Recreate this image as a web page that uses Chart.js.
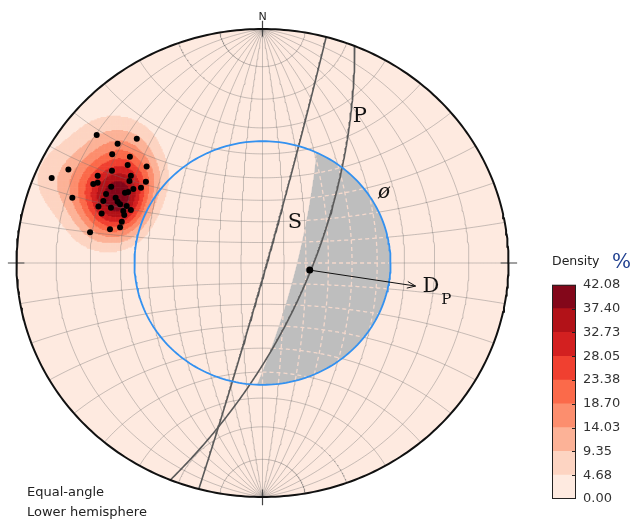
<!DOCTYPE html>
<html>
<head>
<meta charset="utf-8">
<title>Stereonet</title>
<script src="https://cdn.jsdelivr.net/npm/chart.js@4.4.1/dist/chart.umd.min.js"></script>
<style>
  body { margin: 0; background: #fff; }
  .wrap { position: relative; width: 634px; height: 524px; }
  #net { position: absolute; left: 0; top: 0; }
  #colorbar { position: absolute; left: 540px; top: 270px; }
</style>
</head>
<body>
<div class="wrap">
  <canvas id="net" width="634" height="524"></canvas>
  <canvas id="colorbar" width="94" height="254"></canvas>
</div>
<script>
// poles (net units, primitive radius = 1, x east, y north)
const poleX = [-0.674, -0.589, -0.511, -0.611, -0.539, -0.548, -0.471, -0.789, -0.857, -0.612,
  -0.535, -0.670, -0.541, -0.474, -0.688, -0.670, -0.615, -0.525, -0.494, -0.559,
  -0.546, -0.636, -0.597, -0.773, -0.647, -0.589, -0.579, -0.552, -0.667, -0.616,
  -0.535, -0.566, -0.654, -0.562, -0.572, -0.579, -0.620, -0.701];
const poleY = [0.547, 0.510, 0.531, 0.465, 0.454, 0.419, 0.412, 0.400, 0.363, 0.394,
  0.373, 0.373, 0.350, 0.347, 0.338, 0.343, 0.326, 0.316, 0.322, 0.300,
  0.303, 0.295, 0.279, 0.279, 0.265, 0.262, 0.251, 0.244, 0.241, 0.236,
  0.226, 0.222, 0.212, 0.205, 0.176, 0.153, 0.144, 0.131];

// great circles: slope face S and plane P (strike / dip, right hand rule)
const planeNames = ['S', 'P'];
const planeStrike = [15, 22];
const planeDip = [88, 68];

// left edge of the shaded zone, and the friction cone
const daylightStrike = 13.7;
const daylightDip = 74.5;
const frictionAngle = 35;

// dip vector of P
const dipTrend = 99;
const dipPlunge = 68;
const arrowReach = 0.63;

// colour bar
const densityLevels = [0, 4.68, 9.35, 14.03, 18.70, 23.38, 28.05, 32.73, 37.40, 42.08];
const densityLabels = ['0.00', '4.68', '9.35', '14.03', '18.70', '23.38', '28.05', '32.73', '37.40', '42.08'];
const densityColors = ['#feeae0', '#fdd4c2', '#fcb297', '#fc8e6e', '#fb6a4a', '#f04030', '#d32020', '#b21218', '#83071a'];

const D2R = Math.PI / 180;
const GAP = { x: NaN, y: NaN };

// lower hemisphere, equal angle
function toNet(e, n, d) {
  return { x: e / (1 + d), y: n / (1 + d) };
}
function fromNet(x, y) {
  const q = 1 + x * x + y * y;
  return [2 * x / q, 2 * y / q, (2 - q) / q];
}

function planePoints(strike, dip, steps) {
  const s = strike * D2R, dd = (strike + 90) * D2R, dp = dip * D2R;
  const pts = [];
  for (let i = 0; i <= steps; i++) {
    const r = i / steps * Math.PI;
    const e = Math.cos(r) * Math.sin(s) + Math.sin(r) * Math.sin(dd) * Math.cos(dp);
    const n = Math.cos(r) * Math.cos(s) + Math.sin(r) * Math.cos(dd) * Math.cos(dp);
    const d = Math.sin(r) * Math.sin(dp);
    pts.push(toNet(e, n, d));
  }
  return pts;
}

function circlePoints(radius, from, to, steps) {
  const pts = [];
  for (let i = 0; i <= steps; i++) {
    const a = from + (to - from) * i / steps;
    pts.push({ x: radius * Math.cos(a), y: radius * Math.sin(a) });
  }
  return pts;
}

// wulff net: meridians and parallels every 10 degrees, poles at N and S
function netLines(res) {
  const pts = [];
  for (let lon = -80; lon <= 80; lon += 10) {
    for (let lat = -90; lat <= 90; lat += res) {
      const c = Math.cos(lat * D2R);
      pts.push(toNet(c * Math.sin(lon * D2R), Math.sin(lat * D2R), c * Math.cos(lon * D2R)));
    }
    pts.push(GAP);
  }
  for (let lat = -80; lat <= 80; lat += 10) {
    for (let lon = -90; lon <= 90; lon += res) {
      const c = Math.cos(lat * D2R);
      pts.push(toNet(c * Math.sin(lon * D2R), Math.sin(lat * D2R), c * Math.cos(lon * D2R)));
    }
    pts.push(GAP);
  }
  return pts;
}

// shaded zone: inside friction circle, east of the daylight great circle
const fr = Math.tan((90 - frictionAngle) / 2 * D2R);
const dayTan = Math.tan(daylightDip * D2R);
const dayDir = (daylightStrike + 90) * D2R;
const dayC = { x: -dayTan * Math.sin(dayDir), y: -dayTan * Math.cos(dayDir) };
const dayR = 1 / Math.cos(daylightDip * D2R);
function inShade(p) {
  return Math.hypot(p.x, p.y) <= fr && Math.hypot(p.x - dayC.x, p.y - dayC.y) >= dayR;
}
const dayIn = planePoints(daylightStrike, daylightDip, 900).filter(p => Math.hypot(p.x, p.y) <= fr);
const aBottom = Math.atan2(dayIn[dayIn.length - 1].y, dayIn[dayIn.length - 1].x);
let aTop = Math.atan2(dayIn[0].y, dayIn[0].x);
if (aTop < aBottom) aTop += 2 * Math.PI;
const shade = dayIn.concat(circlePoints(fr, aBottom, aTop, 120));

const shadeGrid = netLines(0.5).map(p => (isNaN(p.x) || inShade(p) ? p : GAP));

// density on the sphere: exp(k (cos a - 1)) summed over the poles,
// peak scaled to the top level of the colour bar
const kappa = 80;
const poleVec = poleX.map((x, i) => fromNet(x, poleY[i]));
const cell = 0.005;
const cells = [];
let peak = 0;
for (let x = -0.99; x <= -0.15; x += cell) {
  for (let y = -0.2; y <= 0.9; y += cell) {
    if (x * x + y * y > 1) continue;
    const u = fromNet(x, y);
    let v = 0;
    poleVec.forEach(p => {
      const c = Math.abs(u[0] * p[0] + u[1] * p[1] + u[2] * p[2]);
      v += Math.exp(kappa * (c - 1));
    });
    peak = Math.max(peak, v);
    cells.push({ x, y, v });
  }
}
const densityTop = densityLevels[densityLevels.length - 1];
const cellSets = densityColors.map(() => []);
cells.forEach(c => {
  const v = c.v / peak * densityTop;
  let k = 0;
  while (k < densityColors.length - 1 && v >= densityLevels[k + 1]) k++;
  if (k > 0) cellSets[k].push({ x: c.x, y: c.y });
});

const datasets = [];
function addLine(data, opts) {
  datasets.push(Object.assign({
    data, showLine: true, pointRadius: 0, borderWidth: 1, fill: false, clip: false
  }, opts));
}

addLine(circlePoints(1, 0, 2 * Math.PI, 360), { fill: 'shape', backgroundColor: densityColors[0], borderWidth: 0, order: 100 });
cellSets.forEach((set, k) => {
  if (k === 0) return;
  datasets.push({
    data: set, parsing: false, showLine: false, pointStyle: 'rect', pointRadius: 1.25,
    backgroundColor: densityColors[k], borderWidth: 0, order: 95 - k
  });
});
addLine(netLines(1), { borderColor: 'rgba(110,110,110,0.38)', borderWidth: 1, order: 80 });
addLine(shade, { fill: 'shape', backgroundColor: '#bebebe', borderWidth: 0, order: 70 });
addLine(shadeGrid, { borderColor: '#f3d8cc', borderWidth: 1.3, borderDash: [4, 3], order: 65 });
planeStrike.forEach((s, i) => {
  addLine(planePoints(s, planeDip[i], 240), { borderColor: '#5a5a5a', borderWidth: 1.6, order: 50 });
});
addLine(circlePoints(fr, 0, 2 * Math.PI, 240), { borderColor: '#3391f0', borderWidth: 1.8, order: 40 });

const dip = toNet(
  Math.cos(dipPlunge * D2R) * Math.sin(dipTrend * D2R),
  Math.cos(dipPlunge * D2R) * Math.cos(dipTrend * D2R),
  Math.sin(dipPlunge * D2R));
const tip = { x: arrowReach * Math.sin(dipTrend * D2R), y: arrowReach * Math.cos(dipTrend * D2R) };
addLine([dip, tip], { borderColor: '#111', borderWidth: 1, order: 30 });
datasets.push({
  data: poleX.map((x, i) => ({ x, y: poleY[i] })), showLine: false, pointRadius: 3,
  backgroundColor: '#000', borderWidth: 0, order: 20
});
datasets.push({ data: [dip], showLine: false, pointRadius: 3.5, backgroundColor: '#000', borderWidth: 0, order: 20 });

// primitive and cardinal ticks
addLine(circlePoints(1, 0, 2 * Math.PI, 360), { borderColor: '#111', borderWidth: 2, order: 10 });
const ticks = [];
[[0, 1], [1, 0], [0, -1], [-1, 0]].forEach(([u, v]) => {
  ticks.push({ x: u * 0.968, y: v * 0.968 }, { x: u * 1.035, y: v * 1.035 }, GAP);
});
addLine(ticks, { borderColor: '#444', borderWidth: 1.2, order: 10 });

const netLabels = {
  id: 'netLabels',
  afterDatasetsDraw(chart) {
    const { ctx, scales: { x, y } } = chart;
    const px = (u) => x.getPixelForValue(u);
    const py = (v) => y.getPixelForValue(v);
    ctx.save();
    ctx.textAlign = 'center';
    ctx.textBaseline = 'middle';
    ctx.fillStyle = '#222';
    ctx.font = '11px "DejaVu Sans"';
    ctx.fillText('N', px(0), py(1.051));

    ctx.fillStyle = '#111';
    ctx.font = '21px "DejaVu Serif"';
    ctx.fillText(planeNames[0], px(0.132), py(0.171));
    ctx.fillText(planeNames[1], px(0.396), py(0.628));
    ctx.fillText('D', px(0.685), py(-0.099));
    ctx.font = '15px "DejaVu Serif"';
    ctx.fillText('P', px(0.747), py(-0.160));
    ctx.font = 'italic 20px "DejaVu Serif"';
    ctx.fillText('ø', px(0.494), py(0.302));

    // open arrow head
    const x0 = px(dip.x), y0 = py(dip.y), x1 = px(tip.x), y1 = py(tip.y);
    const a = Math.atan2(y1 - y0, x1 - x0);
    ctx.strokeStyle = '#111';
    ctx.lineWidth = 1;
    ctx.beginPath();
    ctx.moveTo(x1 - 9 * Math.cos(a - 0.38), y1 - 9 * Math.sin(a - 0.38));
    ctx.lineTo(x1, y1);
    ctx.lineTo(x1 - 9 * Math.cos(a + 0.38), y1 - 9 * Math.sin(a + 0.38));
    ctx.stroke();

    ctx.textAlign = 'left';
    ctx.fillStyle = '#222';
    ctx.font = '13px "DejaVu Sans"';
    ctx.fillText('Equal-angle', 27, 493);
    ctx.fillText('Lower hemisphere', 27, 513);
    ctx.font = '12.5px "DejaVu Sans"';
    ctx.fillText('Density', 552, 262);
    ctx.fillStyle = '#1f3f8f';
    ctx.font = '20px "DejaVu Serif"';
    ctx.fillText('%', 612, 263);
    ctx.restore();
  }
};

new Chart(document.getElementById('net'), {
  type: 'scatter',
  data: { datasets },
  options: {
    responsive: false,
    animation: false,
    events: [],
    layout: { padding: { left: 16.5, right: 125.5, top: 29, bottom: 27 } },
    plugins: { legend: { display: false }, tooltip: { enabled: false } },
    scales: {
      x: { type: 'linear', min: -1, max: 1, display: false },
      y: { type: 'linear', min: -1, max: 1, display: false }
    }
  },
  plugins: [netLabels]
});

const barFrame = {
  id: 'barFrame',
  afterDraw(chart) {
    const { ctx, chartArea: a, scales: { y } } = chart;
    ctx.save();
    ctx.strokeStyle = '#222';
    ctx.lineWidth = 1;
    densityLevels.slice(1, -1).forEach(v => {
      const yy = Math.round(y.getPixelForValue(v)) + 0.5;
      ctx.beginPath();
      ctx.moveTo(a.right - 4, yy);
      ctx.lineTo(a.right, yy);
      ctx.stroke();
    });
    ctx.strokeRect(a.left + 0.5, a.top + 0.5, a.right - a.left - 1, a.bottom - a.top - 1);
    ctx.restore();
  }
};

new Chart(document.getElementById('colorbar'), {
  type: 'bar',
  data: {
    labels: [''],
    datasets: densityColors.map((c, i) => ({
      data: [densityLevels[i + 1] - densityLevels[i]],
      backgroundColor: c, borderWidth: 0, barPercentage: 1, categoryPercentage: 1
    }))
  },
  options: {
    responsive: false,
    animation: false,
    events: [],
    layout: { padding: { left: 12, right: 12, top: 11.7, bottom: 25 } },
    plugins: { legend: { display: false }, tooltip: { enabled: false } },
    scales: {
      x: { stacked: true, display: false },
      y: {
        stacked: true, position: 'right', min: 0, max: densityTop,
        afterBuildTicks: axis => { axis.ticks = densityLevels.map(value => ({ value })); },
        afterFit: axis => { axis.width = 46; },
        ticks: {
          padding: 7, color: '#333', font: { size: 13, family: 'DejaVu Sans' },
          callback: (v, i) => densityLabels[i]
        },
        grid: { display: false, drawTicks: false },
        border: { display: false }
      }
    }
  },
  plugins: [barFrame]
});
</script>
</body>
</html>
